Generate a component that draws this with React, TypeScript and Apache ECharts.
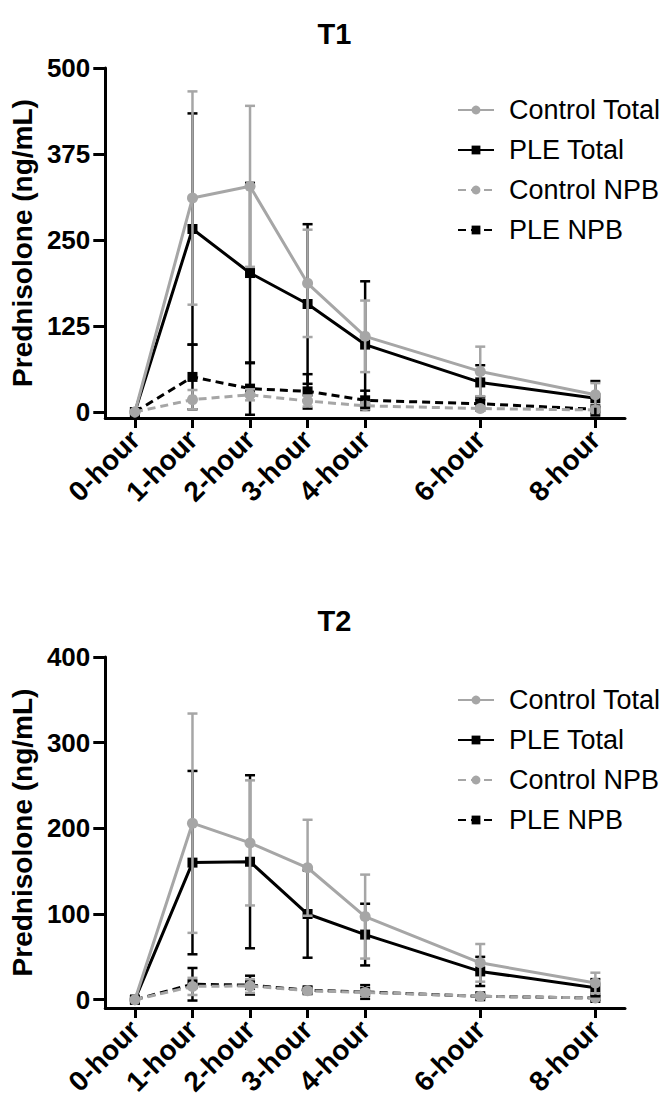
import React, { useEffect, useRef } from "react";
import * as echarts from "echarts";

const hours = [0, 1, 2, 3, 4, 6, 8];
const xTickLabels = ["0-hour", "1-hour", "2-hour", "3-hour", "4-hour", "6-hour", "8-hour"];
const seriesNames = ["Control Total", "PLE Total", "Control NPB", "PLE NPB"];
const titles = ["T1", "T2"];
const yTicksT1 = [0, 125, 250, 375, 500];
const yTicksT2 = [0, 100, 200, 300, 400];

// T1 means and SDs
const t1ControlTotal = [0, 311, 328, 187, 110, 59, 25];
const t1ControlTotalSD = [0, 155, 117, 78, 52, 36, 17];
const t1PLETotal = [0, 266, 202, 157, 98, 43, 20];
const t1PLETotalSD = [0, 168, 131, 116, 92, 25, 25];
const t1ControlNPB = [0, 18, 25, 16, 9, 5, 3];
const t1ControlNPBSD = [0, 14, 8, 8, 5, 3, 2];
const t1PLENPB = [0, 51, 34, 30, 17, 12, 4];
const t1PLENPBSD = [0, 47, 38, 25, 14, 10, 3];

// T2 means and SDs
const t2ControlTotal = [0, 206, 183, 154, 97, 43, 19.5];
const t2ControlTotalSD = [0, 128, 73, 56, 49, 22, 12];
const t2PLETotal = [0, 160, 161, 100, 76, 33, 14];
const t2PLETotalSD = [0, 107, 101, 51, 36, 17, 10];
const t2ControlNPB = [0, 15.5, 16, 10.5, 8.5, 4, 2];
const t2ControlNPBSD = [0, 10, 8, 3, 3, 2, 1];
const t2PLENPB = [0, 18, 17, 11, 9, 4, 2];
const t2PLENPBSD = [0, 19, 11, 3, 8, 2, 2];

const FONT = "'Liberation Sans', Arial, sans-serif";
const GRAY = "#a6a6a6";
const BLACK = "#000000";

function errorSeries(id: string, means: number[], sds: number[], color: string, gi: number, z: number) {
  return {
    type: "custom",
    id,
    name: id,
    xAxisIndex: gi,
    yAxisIndex: gi,
    z,
    silent: true,
    data: hours.map((h, i) => [h, means[i] - sds[i], means[i] + sds[i]]),
    renderItem: (params: any, api: any) => {
      const x = api.value(0);
      const lowV = api.value(1);
      const highV = api.value(2);
      if (highV - lowV <= 0) return { type: "group", children: [] };
      const lo = api.coord([x, lowV]);
      const hi = api.coord([x, highV]);
      const hw = 5;
      const style = { stroke: color, lineWidth: 2.5, fill: "none" };
      return {
        type: "group",
        children: [
          { type: "line", shape: { x1: lo[0], y1: lo[1], x2: hi[0], y2: hi[1] }, style },
          { type: "line", shape: { x1: lo[0] - hw, y1: lo[1], x2: lo[0] + hw, y2: lo[1] }, style },
          { type: "line", shape: { x1: hi[0] - hw, y1: hi[1], x2: hi[0] + hw, y2: hi[1] }, style },
        ],
      };
    },
  };
}

function lineSeries(name: string, means: number[], color: string, symbol: string, dashed: boolean, gi: number, z: number) {
  return {
    type: "line",
    name,
    xAxisIndex: gi,
    yAxisIndex: gi,
    z,
    data: hours.map((h, i) => [h, means[i]]),
    symbol,
    symbolSize: symbol === "rect" ? 10 : 11,
    showAllSymbol: true,
    lineStyle: { color, width: 3, type: dashed ? [8, 5] : "solid" },
    itemStyle: { color },
  };
}

function xAxis(gi: number) {
  return {
    type: "value",
    gridIndex: gi,
    min: -0.515,
    max: 8.515,
    axisLine: { show: true, onZero: false, lineStyle: { color: BLACK, width: 3 } },
    axisTick: { show: true, length: 10, lineStyle: { color: BLACK, width: 3 }, customValues: hours },
    axisLabel: {
      customValues: hours,
      rotate: 45,
      margin: 17,
      color: BLACK,
      fontSize: 28,
      fontWeight: "bold",
      fontFamily: FONT,
      formatter: (v: number) => xTickLabels[hours.indexOf(v)] ?? "",
    },
    splitLine: { show: false },
  };
}

function yAxis(gi: number, min: number, max: number, ticks: number[]) {
  return {
    type: "value",
    gridIndex: gi,
    min,
    max,
    axisLine: { show: true, onZero: false, lineStyle: { color: BLACK, width: 3 } },
    axisTick: { show: true, length: 12, lineStyle: { color: BLACK, width: 3 }, customValues: ticks },
    axisLabel: {
      customValues: ticks,
      margin: 15,
      color: BLACK,
      fontSize: 26,
      fontWeight: "bold",
      fontFamily: FONT,
    },
    splitLine: { show: false },
    name: "Prednisolone (ng/mL)",
    nameLocation: "middle",
    nameGap: 67,
    nameRotate: 90,
    nameTextStyle: { color: BLACK, fontSize: 28, fontWeight: "bold", fontFamily: FONT },
  };
}

function legend(top: number) {
  return {
    data: seriesNames,
    orient: "vertical",
    left: 452,
    top,
    itemWidth: 36,
    itemHeight: 11,
    itemGap: 10,
    textStyle: { color: BLACK, fontSize: 27, fontFamily: FONT, lineHeight: 30, padding: [0, 0, 0, 10] },
    selectedMode: false,
  };
}

export default function App() {
  const ref = useRef<HTMLDivElement>(null);
  useEffect(() => {
    if (!ref.current) return;
    const chart = echarts.init(ref.current, undefined, { renderer: "svg" });
    const t1 = [
      [t1ControlTotal, t1ControlTotalSD],
      [t1PLETotal, t1PLETotalSD],
      [t1ControlNPB, t1ControlNPBSD],
      [t1PLENPB, t1PLENPBSD],
    ];
    const t2 = [
      [t2ControlTotal, t2ControlTotalSD],
      [t2PLETotal, t2PLETotalSD],
      [t2ControlNPB, t2ControlNPBSD],
      [t2PLENPB, t2PLENPBSD],
    ];
    const colors = [GRAY, BLACK, GRAY, BLACK];
    const symbols = ["circle", "rect", "circle", "rect"];
    const dashed = [false, false, true, true];
    const zs = [8, 6, 4, 2];
    const series: any[] = [];
    [t1, t2].forEach((sets, gi) => {
      sets.forEach((s, k) => {
        series.push(errorSeries(`${seriesNames[k]} SD ${gi}`, s[0], s[1], colors[k], gi, zs[k]));
        series.push(lineSeries(seriesNames[k], s[0], colors[k], symbols[k], dashed[k], gi, zs[k] + 1));
      });
    });
    chart.setOption({
      animation: false,
      backgroundColor: "#ffffff",
      textStyle: { fontFamily: FONT },
      title: [
        { text: titles[0], left: "center", top: 14, textStyle: { fontSize: 29, fontWeight: "bold", color: BLACK, fontFamily: FONT } },
        { text: titles[1], left: "center", top: 601, textStyle: { fontSize: 29, fontWeight: "bold", color: BLACK, fontFamily: FONT } },
      ],
      legend: [legend(90), legend(680)],
      grid: [
        { left: 99, width: 526, top: 68, height: 350 },
        { left: 99, width: 526, top: 657, height: 351 },
      ],
      xAxis: [xAxis(0), xAxis(1)],
      yAxis: [yAxis(0, -8.7, 500, yTicksT1), yAxis(1, -9.7, 400, yTicksT2)],
      series,
    });
    return () => chart.dispose();
  }, []);
  return (
    <div
      ref={ref}
      style={{ position: "absolute", left: 0, top: 0, width: 669, height: 1102, background: "#fff" }}
    />
  );
}
